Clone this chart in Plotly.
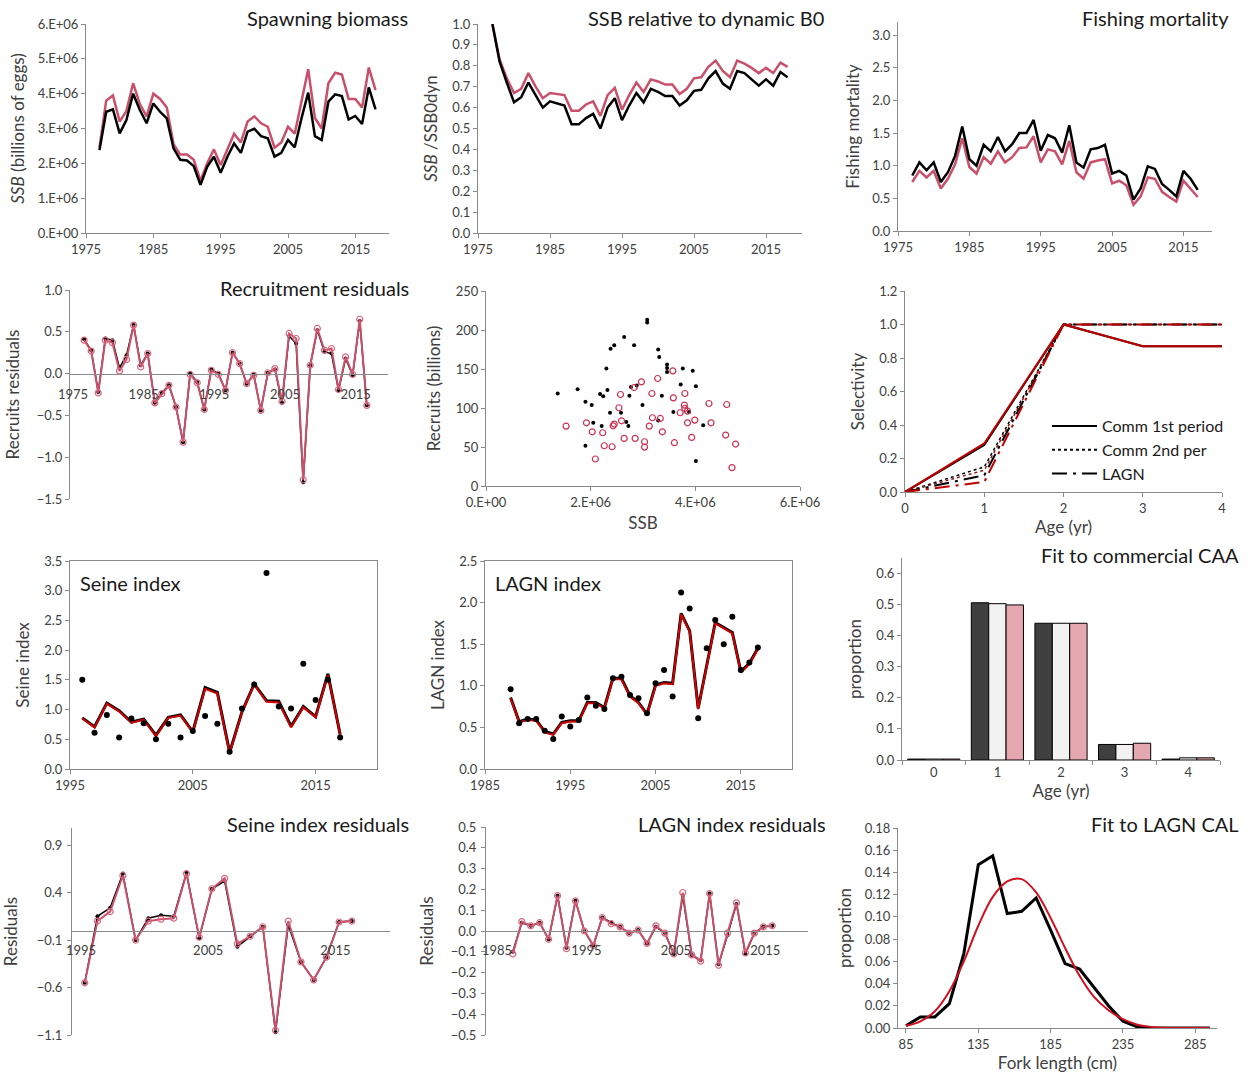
import plotly.graph_objects as go

W, H = 1248, 1073
FONT = "Lato"
GRAY = "#8a8a8a"
TXT = "#404040"
BLACK = "#000000"
PINK = "#c8506a"
PINK_MK = "#d9687e"

# ---------------- data ----------------
years_ssb = list(range(1977, 2019))
ssb_run1 = [2.38, 3.48, 3.55, 2.86, 3.24, 4.00, 3.53, 3.15, 3.72, 3.48, 3.29, 2.43, 2.10, 2.08,
            1.92, 1.38, 1.90, 2.19, 1.73, 2.19, 2.57, 2.30, 2.91, 2.99, 2.78, 2.72, 2.19, 2.30,
            2.67, 2.46, 3.29, 4.03, 2.78, 2.67, 3.77, 3.98, 3.93, 3.26, 3.36, 3.13, 4.18, 3.55]
ssb_run2 = [2.45, 3.80, 3.95, 3.20, 3.50, 4.30, 3.70, 3.35, 4.00, 3.85, 3.60, 2.55, 2.25, 2.25,
            2.10, 1.50, 2.00, 2.40, 1.95, 2.40, 2.85, 2.60, 3.20, 3.35, 3.15, 3.05, 2.45, 2.60,
            3.05, 2.85, 3.75, 4.70, 3.30, 3.00, 4.30, 4.60, 4.55, 3.85, 3.85, 3.60, 4.75, 4.10]

rel_run1 = [1.00, 0.82, 0.72, 0.625, 0.65, 0.72, 0.66, 0.60, 0.63, 0.62, 0.61, 0.52, 0.52, 0.55,
            0.57, 0.50, 0.60, 0.645, 0.54, 0.61, 0.67, 0.625, 0.69, 0.675, 0.655, 0.655, 0.61,
            0.635, 0.68, 0.685, 0.74, 0.775, 0.715, 0.69, 0.775, 0.765, 0.735, 0.705, 0.735,
            0.705, 0.77, 0.745]
rel_run2 = [1.00, 0.83, 0.74, 0.67, 0.69, 0.765, 0.70, 0.645, 0.67, 0.665, 0.66, 0.585, 0.585,
            0.615, 0.63, 0.56, 0.66, 0.695, 0.59, 0.66, 0.72, 0.675, 0.735, 0.725, 0.71, 0.71,
            0.665, 0.69, 0.74, 0.745, 0.795, 0.825, 0.775, 0.745, 0.825, 0.81, 0.79, 0.765,
            0.79, 0.765, 0.815, 0.795]

years_f = list(range(1977, 2018))
f_run1 = [0.85, 1.05, 0.93, 1.05, 0.75, 0.90, 1.15, 1.60, 1.10, 1.00, 1.32, 1.22, 1.44, 1.22,
          1.33, 1.50, 1.50, 1.70, 1.23, 1.47, 1.42, 1.20, 1.62, 1.05, 0.97, 1.25, 1.27, 1.32,
          0.88, 0.92, 0.85, 0.48, 0.65, 0.99, 0.95, 0.72, 0.63, 0.53, 0.92, 0.80, 0.63]
f_run2 = [0.75, 0.92, 0.82, 0.92, 0.65, 0.80, 1.02, 1.42, 0.98, 0.88, 1.13, 1.03, 1.22, 1.05,
          1.13, 1.27, 1.28, 1.45, 1.05, 1.25, 1.22, 1.02, 1.38, 0.90, 0.80, 1.05, 1.08, 1.10,
          0.73, 0.77, 0.70, 0.40, 0.53, 0.82, 0.80, 0.60, 0.52, 0.45, 0.77, 0.65, 0.52]

years_rec = list(range(1977, 2018))
recres_run1 = [0.41, 0.28, -0.22, 0.42, 0.40, 0.07, 0.22, 0.58, 0.10, 0.24, -0.35, -0.23, -0.14,
               -0.40, -0.82, 0.00, -0.10, -0.43, 0.05, 0.00, -0.20, 0.25, 0.12, -0.12, -0.01,
               -0.44, 0.01, 0.05, -0.35, 0.45, 0.36, -1.30, 0.10, 0.52, 0.26, 0.24, -0.20, 0.18,
               -0.02, 0.63, -0.38]
recres_run2 = [0.40, 0.27, -0.23, 0.40, 0.37, 0.03, 0.17, 0.58, 0.08, 0.24, -0.35, -0.24, -0.14,
               -0.40, -0.82, -0.01, -0.11, -0.43, 0.04, -0.01, -0.20, 0.25, 0.12, -0.12, -0.02,
               -0.44, 0.01, 0.06, -0.33, 0.48, 0.42, -1.27, 0.10, 0.54, 0.28, 0.30, -0.19, 0.20,
               -0.01, 0.65, -0.38]

sr_ssb_run1 = [1.37, 1.75, 1.90, 1.90, 2.02, 2.05, 2.18, 2.24, 2.21, 2.30, 2.32, 2.38, 2.45, 2.37,
               2.64, 2.58, 2.68, 2.72, 2.74, 2.77, 2.83, 2.88, 2.99, 3.08, 3.08, 3.29, 3.31, 3.36,
               3.29, 3.46, 3.46, 3.46, 3.58, 3.72, 3.76, 3.88, 3.95, 4.01, 4.01, 4.15]
sr_rec_run1 = [118.6, 124, 108, 51.6, 103.7, 81, 117.8, 115, 76.8, 150.6, 123, 176, 180.5, 94,
               191, 94, 82, 77, 115.6, 127, 180.5, 129, 103.7, 213, 209.5, 175, 165.5, 115.6,
               84, 155.7, 151.4, 146, 95, 130, 150.6, 95, 147.6, 128, 32, 78]
sr_ssb_run2 = [1.53, 1.92, 2.03, 2.09, 2.23, 2.26, 2.41, 2.43, 2.45, 2.54, 2.57, 2.59, 2.64, 2.83,
               2.85, 2.97, 3.03, 3.03, 3.12, 3.17, 3.18, 3.28, 3.33, 3.37, 3.57, 3.58, 3.60, 3.71,
               3.79, 3.80, 3.80, 3.85, 3.85, 3.93, 3.99, 4.26, 4.30, 4.58, 4.60, 4.70, 4.77]
sr_rec_run2 = [76.8, 81, 69.5, 34.6, 68.3, 51.6, 50.3, 77.2, 79.4, 100.3, 117.3, 83.6, 61, 126.3,
               61, 133.5, 56.7, 49.9, 76.8, 118.6, 87.5, 137.8, 86.6, 69.5, 147.6, 113, 55.5,
               93.9, 103.7, 118.6, 99.4, 96, 81, 62.3, 84.5, 105.8, 81, 65.3, 104.5, 23.5, 53.8]

ages = [0, 1, 2, 3, 4]
sel_comm1_run1 = [0.0, 0.28, 1.0, 0.87, 0.87]
sel_comm1_run2 = [0.0, 0.29, 1.0, 0.87, 0.87]
sel_comm2_run1 = [0.0, 0.15, 1.0, 1.0, 1.0]
sel_comm2_run2 = [0.0, 0.13, 1.0, 1.0, 1.0]
sel_lagn_run1 = [0.0, 0.10, 1.0, 1.0, 1.0]
sel_lagn_run2 = [0.0, 0.06, 1.0, 1.0, 1.0]
legend_names = ["Comm 1st period", "Comm 2nd per", "LAGN"]

years_seine = list(range(1996, 2018))
seine_obs = [1.50, 0.61, 0.91, 0.53, 0.85, 0.77, 0.50, 0.76, 0.53, 0.64, 0.89, 0.76, 0.29, 1.02,
             1.42, 3.30, 1.05, 1.02, 1.77, 1.16, 1.50, 0.53]
seine_fit_run1 = [0.86, 0.71, 1.11, 0.98, 0.79, 0.84, 0.57, 0.87, 0.91, 0.63, 1.37, 1.29, 0.28,
                  0.96, 1.43, 1.15, 1.14, 0.72, 1.05, 0.88, 1.60, 0.58]
seine_fit_run2 = [0.85, 0.70, 1.10, 0.97, 0.78, 0.83, 0.55, 0.86, 0.90, 0.62, 1.35, 1.27, 0.26,
                  0.95, 1.42, 1.13, 1.12, 0.70, 1.04, 0.87, 1.58, 0.58]

years_lagn = list(range(1988, 2018))
lagn_obs = [0.96, 0.55, 0.60, 0.60, 0.46, 0.36, 0.63, 0.51, 0.59, 0.86, 0.76, 0.72, 1.09, 1.11,
            0.89, 0.85, 0.67, 1.03, 1.19, 0.87, 2.12, 1.93, 0.61, 1.45, 1.79, 1.50, 1.83, 1.19,
            1.28, 1.46]
lagn_fit_run1 = [0.86, 0.57, 0.60, 0.59, 0.45, 0.42, 0.56, 0.58, 0.58, 0.80, 0.80, 0.74, 1.09,
                 1.09, 0.88, 0.80, 0.66, 1.01, 1.04, 1.03, 1.87, 1.66, 0.73, 1.23, 1.76, 1.70,
                 1.64, 1.17, 1.27, 1.45]
lagn_fit_run2 = [0.85, 0.56, 0.59, 0.58, 0.44, 0.41, 0.55, 0.57, 0.57, 0.79, 0.79, 0.73, 1.08,
                 1.08, 0.87, 0.79, 0.65, 1.00, 1.03, 1.02, 1.86, 1.65, 0.72, 1.22, 1.75, 1.69,
                 1.63, 1.16, 1.26, 1.44]

caa_ages = ["0", "1", "2", "3", "4"]
caa_obs = [0.003, 0.506, 0.440, 0.050, 0.003]
caa_run1 = [0.003, 0.503, 0.440, 0.050, 0.007]
caa_run2 = [0.003, 0.499, 0.440, 0.054, 0.007]

seine_res_run1 = [-0.55, 0.15, 0.24, 0.60, -0.10, 0.13, 0.16, 0.15, 0.61, -0.08, 0.44, 0.52,
                  -0.17, -0.06, 0.04, -1.07, 0.06, -0.33, -0.52, -0.28, 0.09, 0.10]
seine_res_run2 = [-0.55, 0.10, 0.20, 0.58, -0.10, 0.10, 0.12, 0.13, 0.60, -0.07, 0.44, 0.55,
                  -0.14, -0.06, 0.04, -1.05, 0.10, -0.33, -0.52, -0.28, 0.09, 0.10]

lagn_res_run1 = [-0.10, 0.04, 0.025, 0.04, -0.04, 0.17, -0.08, 0.145, 0.0, -0.07, 0.065, 0.04,
                 0.02, -0.01, 0.005, -0.06, 0.02, -0.01, -0.11, 0.17, -0.115, -0.14, 0.18,
                 -0.16, -0.02, 0.13, -0.11, -0.01, 0.02, 0.025]
lagn_res_run2 = [-0.11, 0.045, 0.025, 0.04, -0.04, 0.17, -0.085, 0.145, 0.0, -0.07, 0.065, 0.035,
                 0.02, -0.01, 0.005, -0.06, 0.025, -0.01, -0.11, 0.185, -0.115, -0.145, 0.18,
                 -0.165, -0.01, 0.135, -0.105, -0.01, 0.02, 0.025]

cal_len = list(range(85, 300, 10))
cal_obs = [0.002, 0.010, 0.010, 0.022, 0.067, 0.147, 0.155, 0.103, 0.105, 0.117, 0.088, 0.058,
           0.053, 0.037, 0.020, 0.006, 0.001, 0.0, 0.0, 0.0, 0.0, 0.0]
cal_pred = [0.002, 0.006, 0.015, 0.033, 0.060, 0.092, 0.118, 0.132, 0.134, 0.122, 0.099, 0.072,
            0.047, 0.028, 0.016, 0.008, 0.003, 0.001, 0.0, 0.0, 0.0, 0.0]

# ---------------- helpers ----------------
def px_x(a, b):
    return [a / W, b / W]


def px_y(top, bottom):
    return [1 - bottom / H, 1 - top / H]


def base_axis(kw):
    d = dict(showline=True, linecolor=GRAY, linewidth=1, ticks="outside", ticklen=4,
             tickcolor=GRAY, showgrid=False, zeroline=False, automargin=False,
             tickfont=dict(family=FONT, size=13, color=TXT),
             title=dict(font=dict(family=FONT, size=17, color=TXT)))
    d.update(kw)
    return d


fig = go.Figure()
layout = {}


def add(trace, n):
    sfx = "" if n == 1 else str(n)
    trace.update(xaxis="x" + sfx, yaxis="y" + sfx)
    if trace.showlegend is None:
        trace.update(showlegend=False)
    fig.add_trace(trace)


def set_axes(n, xd, yd, xkw, ykw):
    sfx = "" if n == 1 else str(n)
    xa = dict(domain=xd, anchor="y" + sfx)
    xa.update(xkw)
    ya = dict(domain=yd, anchor="x" + sfx)
    ya.update(ykw)
    layout["xaxis" + sfx] = base_axis(xa)
    layout["yaxis" + sfx] = base_axis(ya)


def line(x, y, color, width, n, **kw):
    add(go.Scatter(x=x, y=y, mode="lines", line=dict(color=color, width=width, **kw)), n)


# Panel 1: Spawning biomass
set_axes(1, px_x(86, 389), px_y(24, 233),
         dict(range=[1975, 2020], tickvals=[1975, 1985, 1995, 2005, 2015]),
         dict(range=[0, 6e6], tickvals=[0, 1e6, 2e6, 3e6, 4e6, 5e6, 6e6],
              ticktext=["0.E+00", "1.E+06", "2.E+06", "3.E+06", "4.E+06", "5.E+06", "6.E+06"],
              title_text="<i>SSB</i> (billions of eggs)", title_standoff=8))
line(years_ssb, [v * 1e6 for v in ssb_run2], PINK, 2.5, 1)
line(years_ssb, [v * 1e6 for v in ssb_run1], BLACK, 2.5, 1)

# Panel 2: SSB relative
set_axes(2, px_x(478, 802), px_y(24, 233),
         dict(range=[1975, 2020], tickvals=[1975, 1985, 1995, 2005, 2015]),
         dict(range=[0, 1.0], dtick=0.1, tickformat=".1f", title_text="<i>SSB</i> /SSB0dyn",
              title_standoff=10))
line(years_ssb, rel_run2, PINK, 2.5, 2)
line(years_ssb, rel_run1, BLACK, 2.5, 2)

# Panel 3: Fishing mortality
set_axes(3, px_x(898, 1212), px_y(22, 231),
         dict(range=[1975, 2019], tickvals=[1975, 1985, 1995, 2005, 2015]),
         dict(range=[0, 3.2], dtick=0.5, tickformat=".1f", title_text="Fishing mortality",
              title_standoff=8))
line(years_f, f_run2, PINK, 2.5, 3)
line(years_f, f_run1, BLACK, 2.5, 3)

# Panel 4: Recruitment residuals
set_axes(4, px_x(70, 388), px_y(290, 499),
         dict(range=[1975, 2020], tickvals=[1975, 1985, 1995, 2005, 2015],
              anchor="free", position=1 - 373.6 / H, ticks="",
              ticklabelstandoff=9, ticklabelshift=3),
         dict(range=[-1.5, 1.0], dtick=0.5, tickformat=".1f", title_text="Recruits residuals",
              title_standoff=12))
add(go.Scatter(x=years_rec, y=recres_run1, mode="lines+markers",
               line=dict(color=BLACK, width=1.5), marker=dict(color=BLACK, size=4)), 4)
add(go.Scatter(x=years_rec, y=recres_run2, mode="lines+markers",
               line=dict(color=PINK, width=2),
               marker=dict(symbol="circle-open", color=PINK_MK, size=6, line=dict(width=1.2))), 4)

# Panel 5: Stock-recruit scatter
set_axes(5, px_x(486, 800), px_y(291, 486),
         dict(range=[0, 6e6], tickvals=[0, 2e6, 4e6, 6e6],
              ticktext=["0.E+00", "2.E+06", "4.E+06", "6.E+06"], title_text="SSB",
              title_standoff=8),
         dict(range=[0, 250], dtick=50, title_text="Recruits (billions)", title_standoff=10))
add(go.Scatter(x=[v * 1e6 for v in sr_ssb_run1], y=sr_rec_run1, mode="markers",
               marker=dict(color=BLACK, size=4)), 5)
add(go.Scatter(x=[v * 1e6 for v in sr_ssb_run2], y=sr_rec_run2, mode="markers",
               marker=dict(symbol="circle-open", color="#cc3050", size=6, line=dict(width=1.2))), 5)

# Panel 6: Selectivity
set_axes(6, px_x(905, 1222), px_y(291, 492),
         dict(range=[0, 4], dtick=1, title_text="Age (yr)", title_standoff=4),
         dict(range=[0, 1.2], dtick=0.2, tickformat=".1f", title_text="Selectivity",
              title_standoff=10))
line(ages, sel_comm2_run1, BLACK, 1.5, 6, dash="dot")
line(ages, sel_comm2_run2, "#8b1a1a", 1.5, 6, dash="dot")
line(ages, sel_lagn_run1, BLACK, 2, 6, dash="longdashdot")
line(ages, sel_lagn_run2, "#c00000", 2, 6, dash="longdashdot")
line(ages, sel_comm1_run1, BLACK, 2, 6)
line(ages, sel_comm1_run2, "#c00000", 2, 6)
for name, dash in zip(legend_names, ["solid", "dot", "longdashdot"]):
    add(go.Scatter(x=[None], y=[None], mode="lines", name=name, showlegend=True,
                   line=dict(color=BLACK, width=2, dash=dash)), 6)

# Panel 7: Seine index
set_axes(7, px_x(70, 377), px_y(561, 769),
         dict(range=[1995, 2020], tickvals=[1995, 2005, 2015], mirror=True),
         dict(range=[0, 3.5], dtick=0.5, tickformat=".1f", mirror=True, title_text="Seine index",
              title_standoff=10))
line(years_seine, seine_fit_run1, BLACK, 3, 7)
line(years_seine, seine_fit_run2, "#d00000", 2, 7)
add(go.Scatter(x=years_seine, y=seine_obs, mode="markers", marker=dict(color=BLACK, size=6)), 7)

# Panel 8: LAGN index
set_axes(8, px_x(485, 792), px_y(561, 769),
         dict(range=[1985, 2021], tickvals=[1985, 1995, 2005, 2015], mirror=True),
         dict(range=[0, 2.5], dtick=0.5, tickformat=".1f", mirror=True, title_text="LAGN index",
              title_standoff=10))
line(years_lagn, lagn_fit_run1, BLACK, 3, 8)
line(years_lagn, lagn_fit_run2, "#d00000", 2, 8)
add(go.Scatter(x=years_lagn, y=lagn_obs, mode="markers", marker=dict(color=BLACK, size=6)), 8)

# Panel 9: commercial CAA
set_axes(9, px_x(902, 1220), px_y(558, 760),
         dict(type="category", tickson="boundaries", title_text="Age (yr)", title_standoff=4),
         dict(range=[0, 0.65], dtick=0.1, tickformat=".1f", title_text="proportion",
              title_standoff=10))
for vals, col in [(caa_obs, "#404040"), (caa_run1, "#f2f2f2"), (caa_run2, "#e6a8b0")]:
    add(go.Bar(x=caa_ages, y=vals, marker=dict(color=col, line=dict(color=BLACK, width=1))), 9)

# Panel 10: Seine residuals
set_axes(10, px_x(72, 390), px_y(828, 1035),
         dict(range=[1995, 2020], tickvals=[1995, 2005, 2015],
              anchor="free", position=1 - 931 / H, ticks="",
              ticklabelstandoff=7, ticklabelshift=9),
         dict(range=[-1.1, 1.08], tickvals=[-1.1, -0.6, -0.1, 0.4, 0.9], tickformat=".1f",
              title_text="Residuals", title_standoff=14, ticklabelstandoff=2))
add(go.Scatter(x=years_seine, y=seine_res_run1, mode="lines+markers",
               line=dict(color=BLACK, width=1.5), marker=dict(color=BLACK, size=4)), 10)
add(go.Scatter(x=years_seine, y=seine_res_run2, mode="lines+markers",
               line=dict(color=PINK, width=2),
               marker=dict(symbol="circle-open", color=PINK_MK, size=6, line=dict(width=1.2))), 10)

# Panel 11: LAGN residuals
set_axes(11, px_x(486, 808), px_y(827, 1035),
         dict(range=[1985, 2021], tickvals=[1985, 1995, 2005, 2015],
              anchor="free", position=1 - 931 / H, ticks="",
              ticklabelstandoff=7, ticklabelshift=11),
         dict(range=[-0.5, 0.5], dtick=0.1, tickformat=".1f", title_text="Residuals",
              title_standoff=12, ticklabelstandoff=2))
add(go.Scatter(x=years_lagn, y=lagn_res_run1, mode="lines+markers",
               line=dict(color=BLACK, width=1.5), marker=dict(color=BLACK, size=4)), 11)
add(go.Scatter(x=years_lagn, y=lagn_res_run2, mode="lines+markers",
               line=dict(color=PINK, width=2),
               marker=dict(symbol="circle-open", color=PINK_MK, size=6, line=dict(width=1.2))), 11)

# Panel 12: LAGN CAL
set_axes(12, px_x(898, 1217), px_y(828, 1028),
         dict(range=[79.5, 300], tickvals=[85, 135, 185, 235, 285],
              title_text="Fork length (cm)", title_standoff=2),
         dict(range=[0, 0.18], dtick=0.02, tickformat=".2f", title_text="proportion",
              title_standoff=8))
line(cal_len, cal_obs, BLACK, 3, 12)
add(go.Scatter(x=cal_len, y=cal_pred, mode="lines",
               line=dict(color="#d01020", width=2, shape="spline")), 12)

# titles
titles = [
    ("Spawning biomass", 410, 18, "right"),
    ("SSB relative to dynamic B0", 826, 18, "right"),
    ("Fishing mortality", 1231, 18, "right"),
    ("Recruitment residuals", 411, 288, "right"),
    ("Fit to commercial CAA", 1241, 555, "right"),
    ("Seine index residuals", 411, 824, "right"),
    ("LAGN index residuals", 828, 824, "right"),
    ("Fit to LAGN CAL", 1241, 824, "right"),
    ("Seine index", 78, 583, "left"),
    ("LAGN index", 493, 583, "left"),
]
annotations = []
for txt, x, y, anc in titles:
    annotations.append(dict(text=txt, x=x / W, y=1 - y / H, xref="paper", yref="paper",
                            xanchor=anc, yanchor="middle", showarrow=False,
                            font=dict(family=FONT, size=20, color="#1a1a1a")))

fig.update_layout(
    width=W, height=H, margin=dict(l=0, r=0, t=0, b=0, autoexpand=False),
    paper_bgcolor="white", plot_bgcolor="white",
    font=dict(family=FONT, color=TXT),
    barmode="group", bargap=0.18, bargroupgap=0,
    annotations=annotations,
    legend=dict(x=1047 / W, y=1 - 409 / H, xanchor="left", yanchor="top",
                font=dict(family=FONT, size=16, color="#1a1a1a"),
                bgcolor="rgba(0,0,0,0)", tracegroupgap=0, itemwidth=45),
    **layout,
)

fig.write_html("out.html", config={"displayModeBar": False},
               post_script="document.body.style.margin='0';")
